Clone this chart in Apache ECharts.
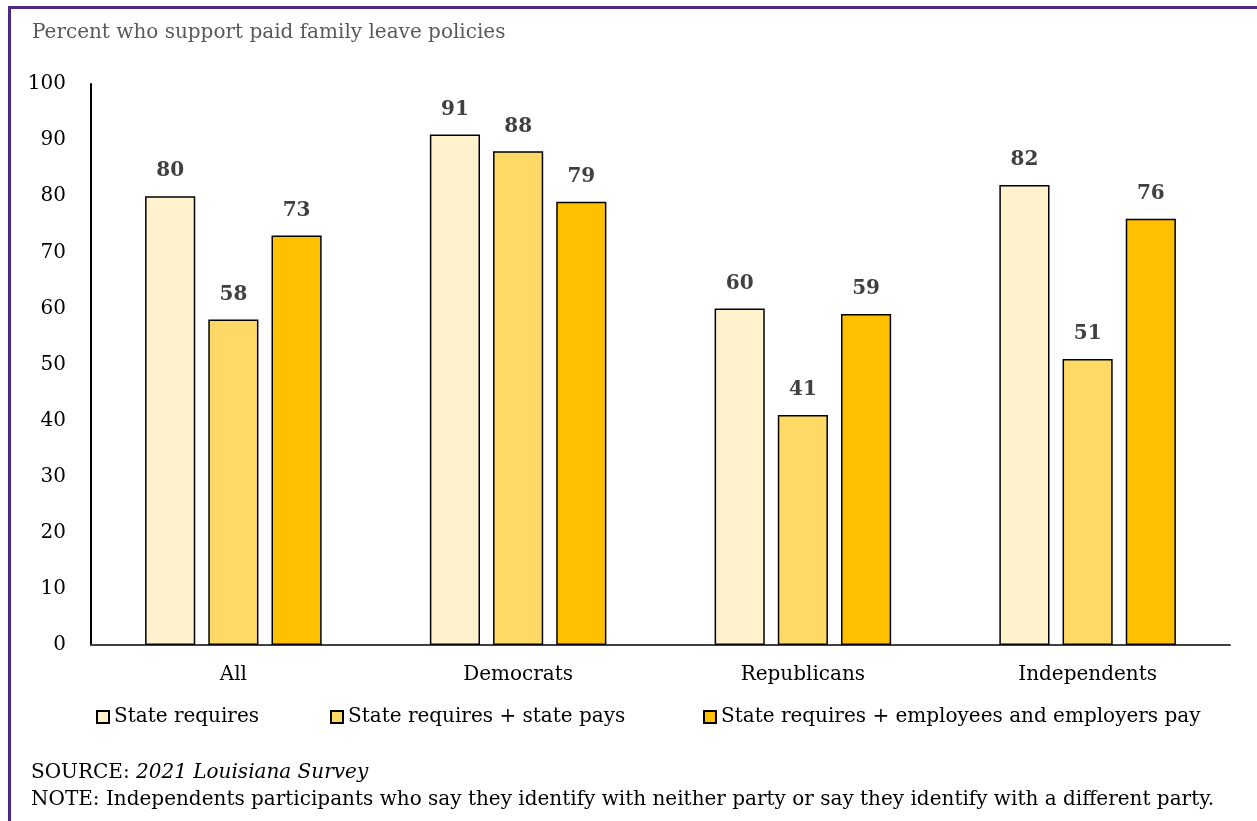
<!DOCTYPE html>
<html>
<head>
<meta charset="utf-8">
<script src="https://cdn.jsdelivr.net/npm/echarts@6/dist/echarts.min.js"></script>
<style>
  html, body { margin: 0; padding: 0; background: #fff; }
  #chart { width: 1257px; height: 821px; }
</style>
</head>
<body>
<div id="chart"></div>
<script>
// Support for paid family leave, by party identification
const categories = ['All', 'Democrats', 'Republicans', 'Independents'];
const seriesNames = [
  'State requires',
  'State requires + state pays',
  'State requires + employees and employers pay'
];
const stateRequires = [80, 91, 60, 82];
const statePays = [58, 88, 41, 51];
const sharedPay = [73, 79, 59, 76];
const yTicks = [0, 10, 20, 30, 40, 50, 60, 70, 80, 90, 100];

const FONT = 'DejaVu Serif';
const colors = ['#FFF2CC', '#FFD966', '#FFC000'];
const values = [stateRequires, statePays, sharedPay];
// horizontal start of each legend entry
const legendLeft = [91, 325, 698];

const chart = echarts.init(document.getElementById('chart'), null, { renderer: 'canvas' });

const series = seriesNames.map((name, i) => ({
  name,
  type: 'bar',
  data: values[i],
  barGap: '26%',
  barCategoryGap: '38%',
  itemStyle: { color: colors[i], borderColor: '#000', borderWidth: 1.5 },
  label: {
    show: true,
    position: 'top',
    distance: 15,
    fontFamily: FONT,
    fontWeight: 'bold',
    fontSize: 20,
    color: '#404040'
  }
}));

const legends = seriesNames.map((name, i) => ({
  left: legendLeft[i],
  top: 702,
  itemWidth: 12,
  itemHeight: 12,
  icon: 'rect',
  textStyle: { fontFamily: FONT, fontSize: 20, color: '#000' },
  data: [name]
}));

chart.setOption({
  animation: false,
  textStyle: { fontFamily: FONT },
  title: {
    text: 'Percent who support paid family leave policies',
    left: 27,
    top: 18,
    textStyle: { fontFamily: FONT, fontWeight: 'normal', fontSize: 20, color: '#595959' }
  },
  grid: { left: 91, right: 27, top: 84, bottom: 176, containLabel: false },
  legend: legends,
  xAxis: {
    type: 'category',
    data: categories,
    axisLine: { lineStyle: { color: '#404040', width: 2 } },
    axisTick: { show: false },
    axisLabel: { margin: 20, fontFamily: FONT, fontSize: 20, color: '#000' }
  },
  yAxis: {
    type: 'value',
    min: yTicks[0],
    max: yTicks[yTicks.length - 1],
    interval: 10,
    axisLine: { show: true, lineStyle: { color: '#000', width: 2 } },
    axisTick: { show: false },
    splitLine: { show: false },
    axisLabel: { margin: 25, fontFamily: FONT, fontSize: 20, color: '#000' }
  },
  graphic: [
    // purple frame along top and left edges
    { type: 'rect', shape: { x: 8, y: 6, width: 1249, height: 3 }, style: { fill: '#4B2A85' } },
    { type: 'rect', shape: { x: 8, y: 6, width: 3, height: 815 }, style: { fill: '#4B2A85' } },
    {
      type: 'text',
      left: 31,
      top: 763,
      style: {
        text: '{n|SOURCE: }{i|2021 Louisiana Survey}',
        rich: {
          n: { fontFamily: FONT, fontSize: 20, fill: '#000' },
          i: { fontFamily: FONT, fontSize: 20, fontStyle: 'italic', fill: '#000' }
        }
      }
    },
    {
      type: 'text',
      left: 31,
      top: 790,
      style: {
        text: 'NOTE: Independents participants who say they identify with neither party or say they identify with a different party.',
        font: '20px "' + FONT + '"',
        fill: '#000'
      }
    }
  ],
  series
});
</script>
</body>
</html>
